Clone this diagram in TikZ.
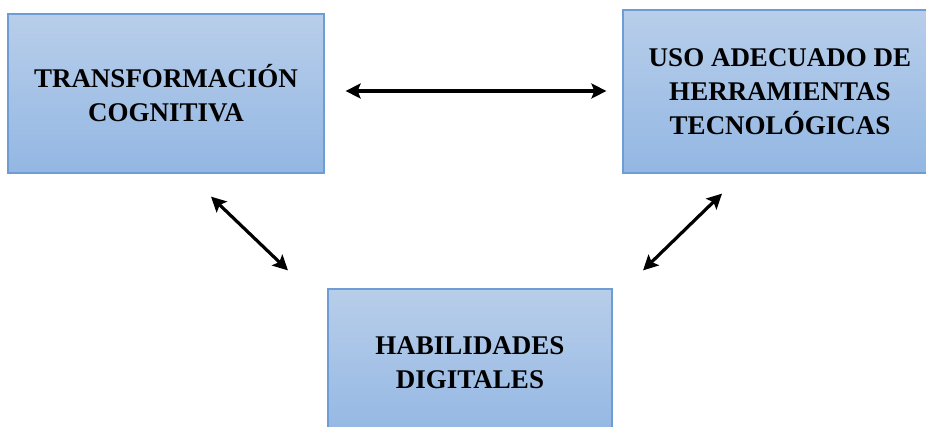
\documentclass[tikz,border=0pt]{standalone}
\usepackage{fontspec}
\setmainfont{Liberation Serif}
\usetikzlibrary{arrows.meta}

\definecolor{boxtop}{RGB}{184,206,234}
\definecolor{boxbot}{RGB}{147,183,227}
\definecolor{boxline}{RGB}{110,157,214}

\tikzset{
    concepto/.style={draw=boxline, line width=1.2pt, top color=boxtop, bottom color=boxbot,
        align=center, font=\fontsize{27}{34}\selectfont\bfseries, inner sep=0pt},
    enlace/.style={line width=3.2pt, {Stealth[length=15pt,width=15pt,inset=3pt]}-{Stealth[length=15pt,width=15pt,inset=3pt]}}
}

\begin{document}
\begin{tikzpicture}[x=1pt, y=-1pt]
    % Frame
    \useasboundingbox (0,0) rectangle (926,426);
    \clip (0,0) rectangle (926,426);

    % Boxes
    \node[concepto, minimum width=316pt, minimum height=159pt] (tc) at (166,93.5) {TRANSFORMACIÓN\\COGNITIVA};
    \node[concepto, minimum width=314pt, minimum height=163pt] (uso) at (780,91.5) {USO ADECUADO DE\\HERRAMIENTAS\\TECNOLÓGICAS};
    \node[concepto, minimum width=284pt, minimum height=148pt] (hd) at (470,363) {HABILIDADES\\DIGITALES};

    % Arrows
    \draw[enlace, shorten <=21pt, shorten >=16pt] ([yshift=2.5pt]tc.east) -- ([yshift=2.5pt]tc.east -| uso.west);
    \draw[enlace] ([xshift=45pt, yshift=-23pt]tc.south) -- ([xshift=-182pt, yshift=18pt]hd.north);
    \draw[enlace] ([xshift=-58pt, yshift=-20pt]uso.south) -- ([xshift=173pt, yshift=18pt]hd.north);
\end{tikzpicture}
\end{document}
